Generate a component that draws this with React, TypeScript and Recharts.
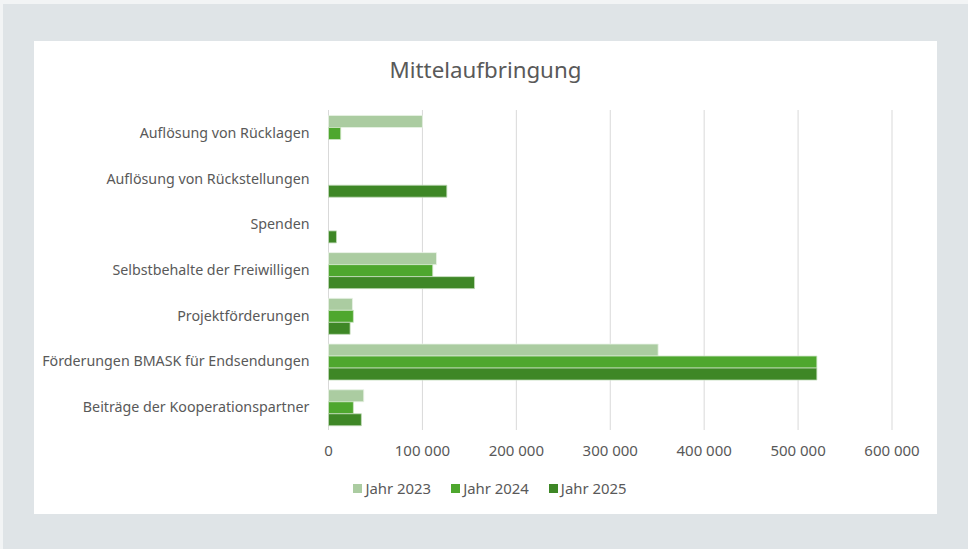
import React from "react";
import {
  BarChart,
  Bar,
  XAxis,
  YAxis,
  CartesianGrid,
  Legend,
} from "recharts";

const categories = [
  "Auflösung von Rücklagen",
  "Auflösung von Rückstellungen",
  "Spenden",
  "Selbstbehalte der Freiwilligen",
  "Projektförderungen",
  "Förderungen BMASK für Endsendungen",
  "Beiträge der Kooperationspartner",
];
const jahr2023 = [100000, 0, 0, 115000, 25500, 351000, 37500];
const jahr2024 = [13000, 0, 0, 111000, 26500, 520000, 26500];
const jahr2025 = [0, 126000, 8500, 155500, 23000, 520000, 35000];
const xTicks = [0, 100000, 200000, 300000, 400000, 500000, 600000];
const seriesNames = ["Jahr 2023", "Jahr 2024", "Jahr 2025"];

const colors = ["#abcca1", "#4ea72e", "#3e8726"];
const FONT = "'Noto Sans', sans-serif";
const TEXT = "#595959";

const data = categories.map((name, i) => ({
  name,
  y2023: jahr2023[i],
  y2024: jahr2024[i],
  y2025: jahr2025[i],
}));

const fmt = (v: number) =>
  v === 0 ? "0" : String(v).replace(/\B(?=(\d{3})+(?!\d))/g, " ");

const LegendContent = () => (
  <div
    style={{
      display: "flex",
      justifyContent: "center",
      fontFamily: FONT,
      fontSize: 14.9,
      color: TEXT,
      paddingLeft: 9,
      lineHeight: "20px",
    }}
  >
    {seriesNames.map((n, i) => (
      <div
        key={n}
        style={{ display: "flex", alignItems: "center", marginRight: i < 2 ? 20 : 0 }}
      >
        <span
          style={{
            display: "inline-block",
            width: 9,
            height: 9,
            background: colors[i],
            marginRight: 3,
          }}
        />
        <span>{n}</span>
      </div>
    ))}
  </div>
);

export default function App() {
  return (
    <div
      style={{
        position: "absolute",
        left: 0,
        top: 0,
        width: 968,
        height: 549,
        background: "#f2f4f5",
        overflow: "hidden",
      }}
    >
      <div
        style={{
          position: "absolute",
          left: 3,
          top: 4,
          width: 965,
          height: 545,
          background: "#dfe4e7",
        }}
      />
      <div
        style={{
          position: "absolute",
          left: 34,
          top: 41,
          width: 903,
          height: 473,
          background: "#ffffff",
        }}
      >
        <div
          style={{
            position: "absolute",
            left: 0,
            top: 13,
            width: 903,
            textAlign: "center",
            fontFamily: FONT,
            fontSize: 22.3,
            lineHeight: "32px",
            color: TEXT,
          }}
        >
          Mittelaufbringung
        </div>
        <BarChart
          width={903}
          height={473}
          data={data}
          layout="vertical"
          margin={{ top: 69, right: 45, bottom: 30, left: 0 }}
          barCategoryGap="12%"
          barGap={0}
        >
          <CartesianGrid horizontal={false} stroke="#d9d9d9" strokeWidth={1} />
          <XAxis
            type="number"
            domain={[0, 600000]}
            ticks={xTicks}
            tickFormatter={fmt}
            axisLine={false}
            tickLine={false}
            tickSize={0}
            tickMargin={15}
            height={30}
            tick={{ fill: TEXT, fontSize: 15, fontFamily: FONT }}
            interval={0}
          />
          <YAxis
            type="category"
            dataKey="name"
            width={294.5}
            axisLine={false}
            tickLine={false}
            tickSize={0}
            tickMargin={19}
            tick={{ fill: TEXT, fontSize: 14.25, fontFamily: FONT }}
            interval={0}
          />
          <Legend
            verticalAlign="bottom"
            height={24}
            content={<LegendContent />}
            wrapperStyle={{ top: 437, bottom: "auto", left: 0, width: 903 }}
          />
          <Bar dataKey="y2023" name="Jahr 2023" fill={colors[0]} stroke="#e8f2e4" strokeWidth={0.8} isAnimationActive={false} />
          <Bar dataKey="y2024" name="Jahr 2024" fill={colors[1]} stroke="#cfe6c6" strokeWidth={0.8} isAnimationActive={false} />
          <Bar dataKey="y2025" name="Jahr 2025" fill={colors[2]} stroke="#c4dcbb" strokeWidth={0.8} isAnimationActive={false} />
        </BarChart>
      </div>
    </div>
  );
}
